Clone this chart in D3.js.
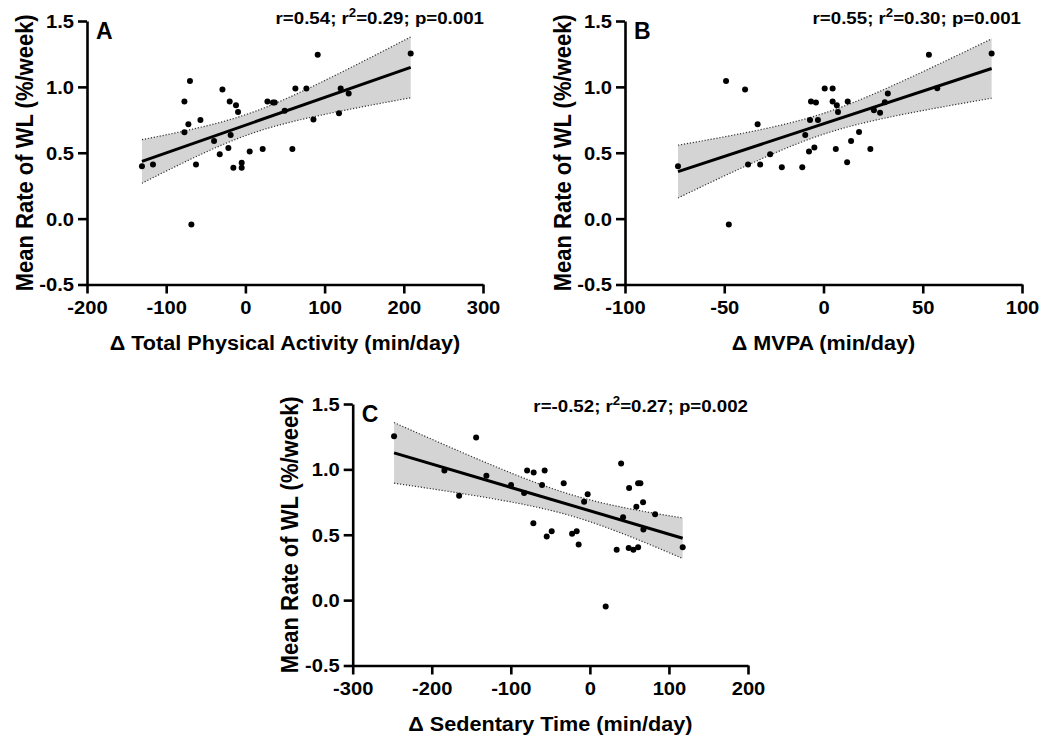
<!DOCTYPE html>
<html>
<head>
<meta charset="utf-8">
<script src="https://cdn.jsdelivr.net/npm/d3@7"></script>
<style>
  html, body { margin: 0; padding: 0; background: #fff; }
  svg { display: block; }
</style>
</head>
<body>
<svg id="chart" width="1046" height="737"></svg>
<script>
// Change in activity (x) against mean weekly rate of weight loss (y), one point per participant.
const totalPA = [-130.6, -116.7, -70.0, -77.0, -72.0, -77.0, -56.8, -62.4, -68.2, -29.0,
                 -19.8, -11.9, -9.3, -39.6, -18.6, -32.4, -21.5, -15.2, -4.7, -4.7,
                 5.4, 21.8, 27.8, 34.8, 37.0, 49.6, 59.3, 63.1, 77.0, 91.3,
                 85.9, 118.2, 120.3, 130.4, 208.7];
const rateWL_A = [0.397, 0.410, 1.044, 0.889, 0.717, 0.656, 0.749, 0.410, -0.044, 0.981,
                  0.889, 0.861, 0.810, 0.590, 0.635, 0.489, 0.537, 0.387, 0.425, 0.387,
                  0.509, 0.529, 0.889, 0.882, 0.882, 0.818, 0.529, 0.988, 0.988, 1.244,
                  0.752, 0.800, 0.988, 0.950, 1.254];

const mvpa = [-73.3, -49.1, -39.5, -33.2, -38.0, -31.9, -26.9, -21.0, -10.7, -47.7,
              -6.3, -3.8, -6.8, -2.8, -9.2, -7.3, -4.6, 0.6, 4.6, 4.6,
              6.7, 7.3, 12.2, 6.2, 11.9, 13.9, 17.9, 23.6, 25.4, 28.5,
              30.9, 32.4, 53.1, 57.3, 84.7];
const rateWL_B = [0.397, 1.044, 0.981, 0.717, 0.410, 0.410, 0.489, 0.390, 0.390, -0.044,
                  0.889, 0.882, 0.749, 0.749, 0.635, 0.509, 0.540, 0.988, 0.988, 0.889,
                  0.861, 0.810, 0.889, 0.529, 0.428, 0.590, 0.658, 0.529, 0.823, 0.803,
                  0.884, 0.950, 1.244, 0.990, 1.254];

const sedentary = [-247.7, -143.9, -184.0, -165.4, -130.9, -99.7, -83.2, -79.4, -71.1, -57.2,
                   -60.5, -33.1, -71.5, -54.6, -48.3, -22.5, -16.7, -14.2, -2.8, -7.3,
                   39.5, 49.6, 61.0, 63.9, 58.8, 67.3, 42.0, 67.7, 82.5, 33.9,
                   49.1, 55.0, 61.0, 117.4, 20.0];
const rateWL_C = [1.254, 1.243, 0.992, 0.799, 0.951, 0.881, 0.820, 0.992, 0.977, 0.992,
                  0.881, 0.893, 0.588, 0.487, 0.527, 0.507, 0.527, 0.426, 0.809, 0.753,
                  1.045, 0.858, 0.893, 0.893, 0.715, 0.748, 0.634, 0.540, 0.657, 0.385,
                  0.398, 0.385, 0.405, 0.405, -0.049];

const xTicksA = [-200, -100, 0, 100, 200, 300];
const xTicksB = [-100, -50, 0, 50, 100];
const xTicksC = [-300, -200, -100, 0, 100, 200];
const yTicks = [-0.5, 0.0, 0.5, 1.0, 1.5];

const statsA = ["r=0.54; r", "2", "=0.29; p=0.001"];
const statsB = ["r=0.55; r", "2", "=0.30; p=0.001"];
const statsC = ["r=-0.52; r", "2", "=0.27; p=0.002"];

const FONT = "'Liberation Sans', Arial, Helvetica, sans-serif";
const svg = d3.select("#chart");

// Least-squares fit with its 95% confidence band.
function fitLine(xs, ys) {
  const n = xs.length;
  const mx = d3.mean(xs), my = d3.mean(ys);
  let sxx = 0, sxy = 0;
  for (let i = 0; i < n; i++) {
    sxx += (xs[i] - mx) ** 2;
    sxy += (xs[i] - mx) * (ys[i] - my);
  }
  const slope = sxy / sxx;
  const icpt = my - slope * mx;
  let sse = 0;
  for (let i = 0; i < n; i++) sse += (ys[i] - (icpt + slope * xs[i])) ** 2;
  const s = Math.sqrt(sse / (n - 2));
  const df = n - 2, z = 1.959964;
  const t = z + (z ** 3 + z) / (4 * df) + (5 * z ** 5 + 16 * z ** 3 + 3 * z) / (96 * df * df);
  const [x0, x1] = d3.extent(xs);
  const pts = d3.range(0, 61).map(k => {
    const x = x0 + (x1 - x0) * k / 60;
    const yh = icpt + slope * x;
    const h = t * s * Math.sqrt(1 / n + (x - mx) ** 2 / sxx);
    return { x, yh, lo: yh - h, hi: yh + h };
  });
  return { pts, x0, x1, slope, icpt };
}

function drawPanel(o) {
  const g = svg.append("g");
  const x = d3.scaleLinear().domain(o.xDomain).range(o.xRange);
  const y = d3.scaleLinear().domain([-0.5, 1.5]).range(o.yRange);
  const fit = fitLine(o.xs, o.ys);

  g.append("path")
    .datum(fit.pts)
    .attr("fill", "#d4d4d4")
    .attr("d", d3.area().x(d => x(d.x)).y0(d => y(d.lo)).y1(d => y(d.hi)));

  ["lo", "hi"].forEach(k => {
    g.append("path")
      .datum(fit.pts)
      .attr("fill", "none")
      .attr("stroke", "#333")
      .attr("stroke-width", 1.2)
      .attr("stroke-dasharray", "1.2,1.8")
      .attr("d", d3.line().x(d => x(d.x)).y(d => y(d[k])));
  });

  g.append("line")
    .attr("x1", x(fit.x0)).attr("y1", y(fit.icpt + fit.slope * fit.x0))
    .attr("x2", x(fit.x1)).attr("y2", y(fit.icpt + fit.slope * fit.x1))
    .attr("stroke", "#000").attr("stroke-width", 3);

  g.selectAll("circle.pt")
    .data(o.xs.map((v, i) => [v, o.ys[i]]))
    .join("circle")
    .attr("class", "pt")
    .attr("cx", d => x(d[0]))
    .attr("cy", d => y(d[1]))
    .attr("r", 3)
    .attr("fill", "#000");

  const sx = 1.12;
  const xAxis = g.append("g")
    .attr("transform", `translate(0,${o.yRange[0]})`)
    .call(d3.axisBottom(x).tickValues(o.xTicks).tickSize(9).tickSizeOuter(0).tickFormat(d => String(d)));
  xAxis.selectAll("text")
    .attr("y", 30).attr("dy", null)
    .attr("transform", `scale(${sx},1)`);

  const yAxis = g.append("g")
    .attr("transform", `translate(${o.xRange[0]},0)`)
    .call(d3.axisLeft(y).tickValues(yTicks).tickSize(9).tickSizeOuter(0).tickFormat(d => d.toFixed(1)));
  yAxis.selectAll("text")
    .attr("x", -13 / sx).attr("dy", "0.36em")
    .attr("transform", `scale(${sx},1)`);

  [xAxis, yAxis].forEach(a => {
    a.attr("font-family", FONT).attr("font-size", 18).attr("font-weight", "bold");
    a.selectAll("text").attr("fill", "#000");
    a.selectAll("path.domain, line").attr("stroke", "#000").attr("stroke-width", 2.6);
  });

  // axis titles
  const xMid = (o.xRange[0] + o.xRange[1]) / 2;
  g.append("text")
    .attr("transform", `translate(${xMid},${o.yRange[0] + 65}) scale(1.03,1)`)
    .attr("text-anchor", "middle")
    .attr("font-family", FONT).attr("font-size", 21).attr("font-weight", "bold")
    .text(o.xTitle);

  const yMid = (o.yRange[0] + o.yRange[1]) / 2;
  g.append("text")
    .attr("transform", `translate(${o.xRange[0] - 63},${yMid}) scale(1.1,1) rotate(-90)`)
    .attr("text-anchor", "middle")
    .attr("dy", "0.36em")
    .attr("font-family", FONT).attr("font-size", 22).attr("font-weight", "bold")
    .text("Mean Rate of WL (%/week)");

  // panel letter
  g.append("text")
    .attr("x", o.xRange[0] + 9).attr("y", o.yRange[1] + 18)
    .attr("font-family", FONT).attr("font-size", 23).attr("font-weight", "bold")
    .text(o.letter);

  // correlation summary
  const st = g.append("text")
    .attr("text-anchor", "end")
    .attr("transform", `translate(${o.statsX},${o.statsY}) scale(1.1,1)`)
    .attr("font-family", FONT).attr("font-size", 17).attr("font-weight", "bold");
  st.append("tspan").text(o.stats[0]);
  st.append("tspan").attr("dy", -7).attr("font-size", 12).text(o.stats[1]);
  st.append("tspan").attr("dy", 7).text(o.stats[2]);
}

drawPanel({
  xs: totalPA, ys: rateWL_A,
  xDomain: [-200, 300], xRange: [87, 483], yRange: [284.5, 21],
  xTicks: xTicksA, xTitle: "\u0394 Total Physical Activity (min/day)",
  letter: "A", stats: statsA, statsX: 484, statsY: 24
});

drawPanel({
  xs: mvpa, ys: rateWL_B,
  xDomain: [-100, 100], xRange: [625, 1022], yRange: [284.5, 21],
  xTicks: xTicksB, xTitle: "\u0394 MVPA (min/day)",
  letter: "B", stats: statsB, statsX: 1021, statsY: 24
});

drawPanel({
  xs: sedentary, ys: rateWL_C,
  xDomain: [-300, 200], xRange: [352.7, 748], yRange: [665.5, 404],
  xTicks: xTicksC, xTitle: "\u0394 Sedentary Time (min/day)",
  letter: "C", stats: statsC, statsX: 748, statsY: 412
});
</script>
</body>
</html>
